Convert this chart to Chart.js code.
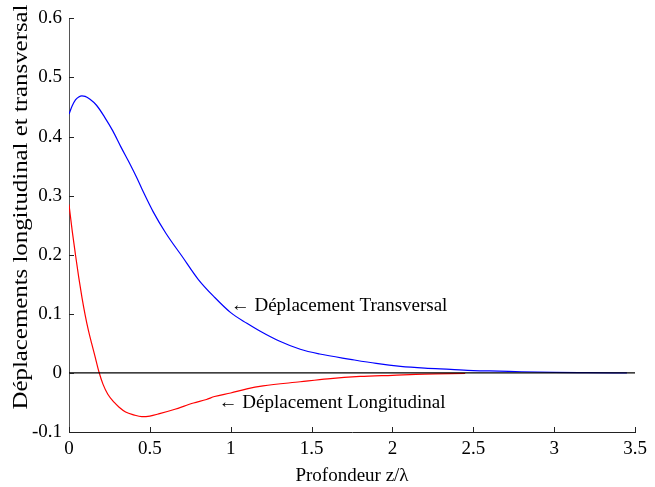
<!DOCTYPE html>
<html>
<head>
<meta charset="utf-8">
<script src="https://cdn.jsdelivr.net/npm/chart.js@4"></script>
<style>
  html, body { margin: 0; padding: 0; background: #fff; }
  #wrap { width: 655px; height: 487px; }
</style>
</head>
<body>
<div id="wrap"><canvas id="chart" width="655" height="487"></canvas></div>
<script>
// profondeur z/lambda et deplacements
const zTrans = [0, 0.02, 0.04, 0.06, 0.08, 0.1, 0.13, 0.17, 0.22, 0.27, 0.32, 0.38, 0.42, 0.46, 0.52, 0.6, 0.7, 0.8, 0.9, 1.0, 1.1, 1.18, 1.3, 1.43, 1.55, 1.74, 1.9, 2.05, 2.2, 2.36, 2.5, 2.66, 2.8, 3.0, 3.2, 3.45];
const transversal = [0.438, 0.452, 0.462, 0.467, 0.469, 0.468, 0.463, 0.453, 0.433, 0.41, 0.383, 0.352, 0.33, 0.306, 0.273, 0.236, 0.197, 0.158, 0.128, 0.102, 0.084, 0.071, 0.054, 0.04, 0.032, 0.023, 0.016, 0.011, 0.008, 0.006, 0.004, 0.003, 0.002, 0.001, 0.0005, 0];

const zLong = [0, 0.02, 0.04, 0.06, 0.08, 0.1, 0.12, 0.14, 0.16, 0.185, 0.21, 0.24, 0.28, 0.31, 0.35, 0.4, 0.45, 0.5, 0.56, 0.65, 0.77, 0.85, 0.9, 1.0, 1.1, 1.2, 1.43, 1.6, 1.8, 2.0, 2.2, 2.45];
const longitudinal = [0.285, 0.24, 0.2, 0.162, 0.128, 0.098, 0.072, 0.05, 0.029, 0.002, -0.019, -0.036, -0.05, -0.058, -0.066, -0.071, -0.074, -0.073, -0.069, -0.062, -0.051, -0.045, -0.04, -0.034, -0.027, -0.022, -0.015, -0.01, -0.006, -0.004, -0.002, -0.001];

const xTicks = [0, 0.5, 1, 1.5, 2, 2.5, 3, 3.5];
const yTicks = [-0.1, 0, 0.1, 0.2, 0.3, 0.4, 0.5, 0.6];

const yTitle = 'Déplacements longitudinal et transversal';

// etiquettes dans le graphe (position en coordonnees des donnees)
const labels = [
    { text: '\u2190 Déplacement Transversal', z: 1.0, v: 0.113 },
    { text: '\u2190 Déplacement Longitudinal', z: 0.925, v: -0.051 }
];

const serif = "'Liberation Serif', 'Times New Roman', serif";

function pts(xs, ys) {
    return xs.map((x, i) => ({ x: x, y: ys[i] }));
}

// ticks vers l'interieur + textes
const extras = {
    id: 'extras',
    afterDraw(chart) {
        const ctx = chart.ctx;
        const xs = chart.scales.x, ys = chart.scales.y;
        const area = chart.chartArea;
        ctx.save();
        ctx.strokeStyle = '#222';
        ctx.lineWidth = 1;
        ctx.beginPath();
        xTicks.forEach(t => {
            const px = Math.round(xs.getPixelForValue(t)) + 0.5;
            ctx.moveTo(px, area.bottom);
            ctx.lineTo(px, area.bottom - 5);
        });
        yTicks.forEach(t => {
            const py = Math.round(ys.getPixelForValue(t)) + 0.5;
            ctx.moveTo(area.left, py);
            ctx.lineTo(area.left + 5, py);
        });
        ctx.stroke();

        ctx.fillStyle = '#000';
        ctx.font = '19px ' + serif;
        ctx.textBaseline = 'middle';
        ctx.textAlign = 'left';
        labels.forEach(l => {
            ctx.fillText(l.text, xs.getPixelForValue(l.z), ys.getPixelForValue(l.v));
        });

        // titre vertical, etire comme dans la figure d'origine
        ctx.font = '20px ' + serif;
        ctx.textAlign = 'center';
        const w = ctx.measureText(yTitle).width;
        ctx.translate(22, 207);
        ctx.rotate(-Math.PI / 2);
        ctx.scale(405 / w, 1);
        ctx.fillText(yTitle, 0, 0);
        ctx.restore();
    }
};

new Chart(document.getElementById('chart').getContext('2d'), {
    type: 'line',
    data: {
        datasets: [
            {
                label: 'zero',
                data: pts([0, 3.5], [0, 0]),
                borderColor: '#000',
                borderWidth: 1.2,
                pointRadius: 0
            },
            {
                label: 'Déplacement Transversal',
                data: pts(zTrans, transversal),
                borderColor: '#0000ff',
                borderWidth: 1.2,
                pointRadius: 0,
                cubicInterpolationMode: 'monotone'
            },
            {
                label: 'Déplacement Longitudinal',
                data: pts(zLong, longitudinal),
                borderColor: '#ff0000',
                borderWidth: 1.2,
                pointRadius: 0,
                cubicInterpolationMode: 'monotone'
            }
        ]
    },
    options: {
        responsive: false,
        animation: false,
        layout: { padding: { top: 15, right: 20, left: 0, bottom: 0 } },
        plugins: {
            legend: { display: false },
            tooltip: { enabled: false }
        },
        scales: {
            x: {
                type: 'linear',
                min: 0,
                max: 3.5,
                afterBuildTicks: s => { s.ticks = xTicks.map(v => ({ value: v })); },
                afterFit: s => { s.height = 55; },
                grid: { display: true, drawOnChartArea: false, drawTicks: false },
                border: { display: true, color: '#222', width: 1 },
                ticks: {
                    color: '#000',
                    padding: 6,
                    maxRotation: 0,
                    font: { family: serif, size: 19 },
                    callback: v => String(v)
                },
                title: {
                    display: true,
                    text: 'Profondeur z/\u03bb',
                    color: '#000',
                    padding: { top: 0, bottom: 0 },
                    font: { family: serif, size: 19 }
                }
            },
            y: {
                min: -0.1,
                max: 0.6,
                afterBuildTicks: s => { s.ticks = yTicks.map(v => ({ value: v })); },
                afterFit: s => { s.width = 69; },
                grid: { display: true, drawOnChartArea: false, drawTicks: false },
                border: { display: true, color: '#555', width: 1 },
                ticks: {
                    color: '#000',
                    padding: 7,
                    font: { family: serif, size: 19 },
                    callback: v => String(Math.round(v * 10) / 10)
                },
                title: { display: false }
            }
        }
    },
    plugins: [extras]
});
</script>
</body>
</html>
